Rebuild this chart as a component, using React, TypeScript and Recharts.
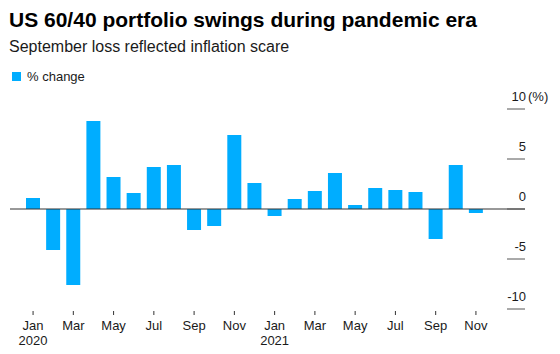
import { Bar, BarChart, ReferenceLine, XAxis, YAxis } from "recharts";

const months = [
  "Jan", "Feb", "Mar", "Apr", "May", "Jun", "Jul", "Aug", "Sep", "Oct", "Nov", "Dec",
  "Jan", "Feb", "Mar", "Apr", "May", "Jun", "Jul", "Aug", "Sep", "Oct", "Nov",
];
const years = [
  "2020", "", "", "", "", "", "", "", "", "", "", "",
  "2021", "", "", "", "", "", "", "", "", "", "",
];
const pctChange = [
  1.1, -4.1, -7.6, 8.8, 3.2, 1.6, 4.2, 4.4, -2.1, -1.7, 7.4, 2.6,
  -0.7, 1.0, 1.8, 3.6, 0.4, 2.1, 1.9, 1.7, -3.0, 4.4, -0.4,
];
const yTicks = [-10, -5, 0, 5, 10];

const data = months.map((m, i) => ({
  key: `${m} ${years[i] || i}`,
  month: m,
  year: years[i],
  value: pctChange[i],
}));

const FONT = '"Liberation Sans", Arial, sans-serif';
const BLUE = "#00adff";

function MonthTick(props: any) {
  const { x, y, payload } = props;
  const row = data[payload.index];
  return (
    <g>
      <line x1={x} x2={x} y1={y + 2} y2={y + 6} stroke="#333" />
      <text x={x} y={y + 21} textAnchor="middle" fontSize={13} fill="#1a1a1a" fontFamily={FONT}>
        {row?.month}
      </text>
      {row?.year ? (
        <text x={x} y={y + 36} textAnchor="middle" fontSize={13} fill="#1a1a1a" fontFamily={FONT}>
          {row.year}
        </text>
      ) : null}
    </g>
  );
}

function ValueTick(props: any) {
  const { x, y, payload } = props;
  return (
    <g>
      <line x1={x - 18} x2={x} y1={y} y2={y} stroke="#555" />
      <text x={x + 1} y={y - 8} textAnchor="end" fontSize={13} fill="#1a1a1a" fontFamily={FONT}>
        {payload.value}
      </text>
      {payload.value === 10 ? (
        <text x={x + 3} y={y - 8} textAnchor="start" fontSize={13} fill="#1a1a1a" fontFamily={FONT}>
          (%)
        </text>
      ) : null}
    </g>
  );
}

export default function App() {
  return (
    <div style={{ position: "absolute", left: 0, top: 0, width: 560, height: 354, background: "#fff", fontFamily: FONT }}>
      <div style={{ position: "absolute", left: 9, top: 8, fontSize: 21, fontWeight: 700, color: "#000", whiteSpace: "nowrap" }}>
        US 60/40 portfolio swings during pandemic era
      </div>
      <div style={{ position: "absolute", left: 9, top: 38, fontSize: 16, color: "#1a1a1a", whiteSpace: "nowrap" }}>
        September loss reflected inflation scare
      </div>
      <div style={{ position: "absolute", left: 12, top: 69, fontSize: 13, color: "#1a1a1a", display: "flex", alignItems: "center" }}>
        <span style={{ display: "inline-block", width: 9, height: 9, background: BLUE, marginRight: 6 }} />
        % change
      </div>
      <BarChart
        width={560}
        height={354}
        data={data}
        margin={{ top: 109, right: 0, bottom: 0, left: 10 }}
      >
        <XAxis
          dataKey="key"
          interval={1}
          tick={<MonthTick />}
          tickLine={false}
          axisLine={false}
          tickSize={0}
          tickMargin={0}
          height={45}
          padding={{ left: 13, right: 39 }}
        />
        <YAxis
          orientation="right"
          domain={[-10, 10]}
          ticks={yTicks}
          tick={<ValueTick />}
          tickLine={false}
          axisLine={false}
          tickSize={0}
          tickMargin={0}
          width={35}
        />
        <ReferenceLine y={0} stroke="#333" />
        <Bar dataKey="value" fill={BLUE} barSize={14} isAnimationActive={false} />
      </BarChart>
    </div>
  );
}
